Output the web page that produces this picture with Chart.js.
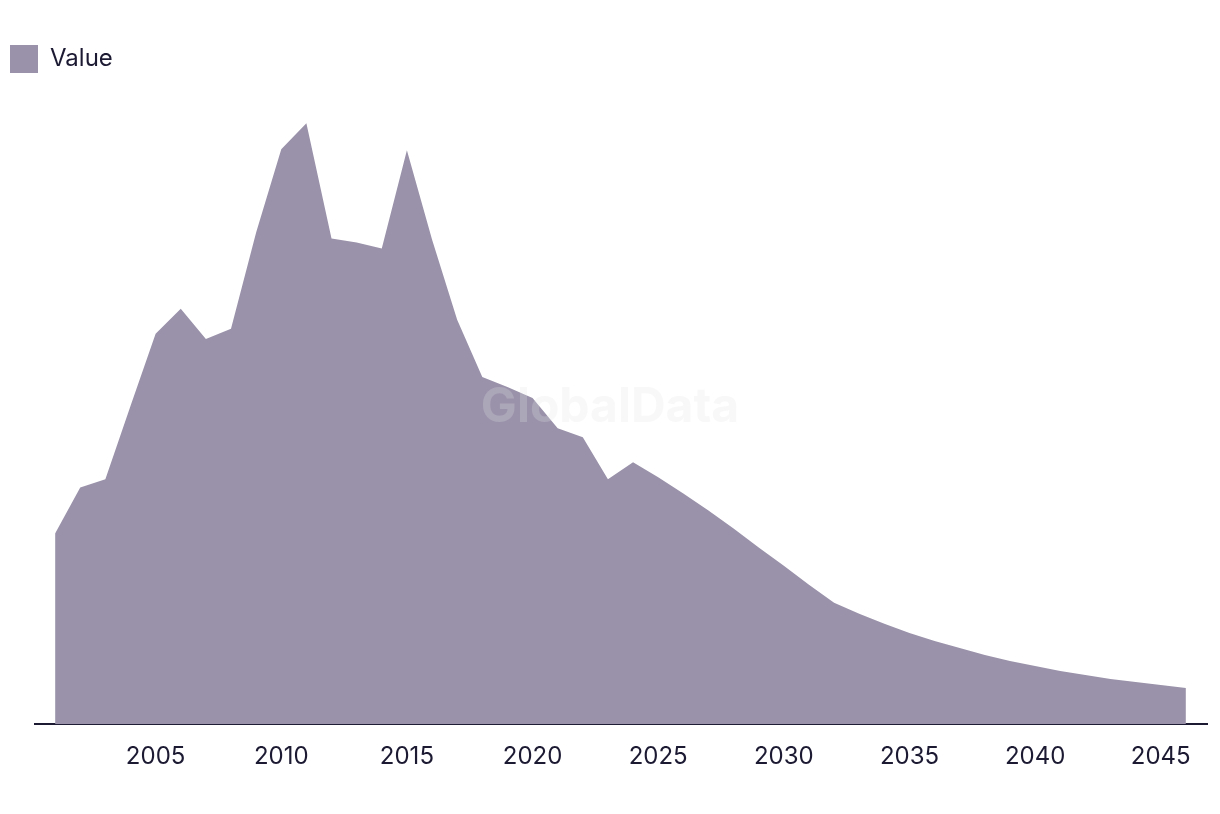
<!DOCTYPE html>
<html>
<head>
<meta charset="utf-8">
<script src="https://cdn.jsdelivr.net/npm/chart.js@4/dist/chart.umd.min.js"></script>
<style>
html,body{margin:0;padding:0;background:#fff;}
#wrap{width:1220px;height:814px;position:relative;}
</style>
</head>
<body>
<div id="wrap"><canvas id="c" width="1220" height="814"></canvas></div>
<script>
const years = [2001,2002,2003,2004,2005,2006,2007,2008,2009,2010,2011,2012,2013,2014,2015,2016,2017,2018,2019,2020,2021,2022,2023,2024,2025,2026,2027,2028,2029,2030,2031,2032,2033,2034,2035,2036,2037,2038,2039,2040,2041,2042,2043,2044,2045,2046];
const values = [190,236,244,317,389,414,384,394,490,573,599,484,480,474,572,483,403,346,336,325,295,286,244,261,246,230,213,195,176,158,139,121,110,100,91,83,76,69,63,58,53,49,45,42,39,36];
const xTicks = [2005,2010,2015,2020,2025,2030,2035,2040,2045];
const seriesLabel = 'Value';

const textColor = '#1c1a33';
const fillColor = 'rgb(154,146,170)';
const fontFamily = 'Inter, "Liberation Sans", sans-serif';

const watermark = {
  id: 'watermark',
  afterDatasetsDraw(chart) {
    const ctx = chart.ctx;
    ctx.save();
    ctx.font = 'bold 48px ' + fontFamily;
    ctx.fillStyle = 'rgba(228,228,232,0.25)';
    ctx.textAlign = 'center';
    ctx.textBaseline = 'middle';
    ctx.fillText('GlobalData', 610, 408);
    ctx.restore();
  }
};

new Chart(document.getElementById('c'), {
  type: 'line',
  data: {
    datasets: [{
      label: seriesLabel,
      data: years.map((y, i) => ({x: y, y: values[i]})),
      backgroundColor: fillColor,
      borderColor: fillColor,
      borderWidth: 0,
      pointRadius: 0,
      fill: 'origin',
      tension: 0
    }]
  },
  options: {
    responsive: false,
    animation: false,
    layout: {padding: {left: 0, right: 13, top: 35, bottom: 25}},
    plugins: {
      legend: {
        display: true,
        align: 'start',
        labels: {
          boxWidth: 28, boxHeight: 28, padding: 10,
          color: textColor,
          font: {family: fontFamily, size: 24}
        }
      },
      tooltip: {enabled: false}
    },
    scales: {
      x: {
        type: 'linear',
        min: 2000.2, max: 2046.84,
        afterBuildTicks(scale) { scale.ticks = xTicks.map(v => ({value: v})); },
        grid: {display: false, drawTicks: false},
        border: {display: true, color: textColor, width: 2},
        ticks: {
          color: textColor, padding: 18, maxRotation: 0, autoSkip: false,
          font: {family: fontFamily, size: 24},
          callback: v => String(v)
        }
      },
      y: {
        min: 0, max: 639,
        afterFit(scale) { scale.width = 35; },
        grid: {display: false},
        border: {display: false},
        ticks: {display: false}
      }
    }
  },
  plugins: [watermark]
});
</script>
</body>
</html>
